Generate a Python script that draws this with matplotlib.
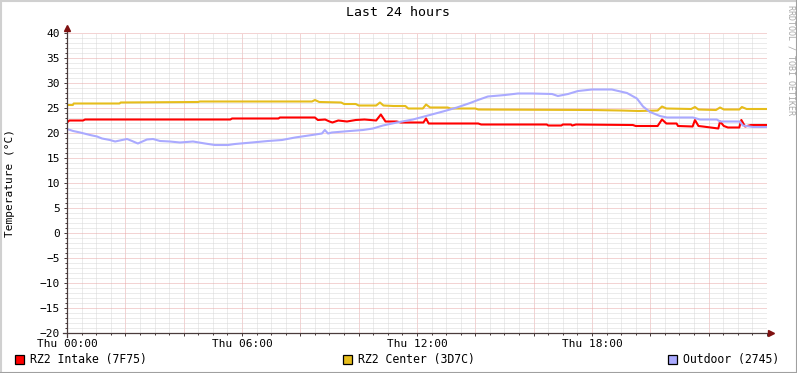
import matplotlib
matplotlib.use("Agg")
import matplotlib.pyplot as plt
from matplotlib.lines import Line2D
from matplotlib.patches import Rectangle

plt.rcParams["font.family"] = ["DejaVu Sans Mono"]

# hours since Thu 00:00, values in deg C
intake_t = [0.00, 0.08, 0.55, 0.62, 5.60, 5.66, 7.25, 7.30, 8.50, 8.60, 8.85, 9.00, 9.10, 9.30,
            9.60, 9.90, 10.20, 10.60, 10.76, 10.92, 11.30, 11.45, 12.22, 12.31, 12.40, 14.10,
            14.20, 16.45, 16.50, 16.95, 17.00, 17.28, 17.32, 17.45, 19.40, 19.50, 20.25, 20.40,
            20.55, 20.90, 20.95, 21.45, 21.53, 21.65, 21.80, 22.20, 22.33, 22.39, 22.52, 22.66,
            23.05, 23.12, 23.25, 23.45, 24.00]
intake_v = [22.1, 22.5, 22.5, 22.7, 22.7, 22.9, 22.9, 23.1, 23.1, 22.6, 22.7, 22.3, 22.1, 22.5,
            22.3, 22.6, 22.7, 22.5, 23.7, 22.3, 22.3, 22.1, 22.1, 22.9, 21.9, 21.9,
            21.7, 21.7, 21.5, 21.5, 21.7, 21.7, 21.5, 21.7, 21.6, 21.4, 21.4, 22.7,
            21.9, 21.9, 21.4, 21.3, 22.6, 21.4, 21.3, 21.0, 20.9, 22.3, 21.4, 21.1,
            21.1, 22.6, 21.3, 21.6, 21.6]

center_t = [0.00, 0.20, 0.23, 1.80, 1.84, 4.50, 4.55, 8.40, 8.50, 8.65, 9.40, 9.50, 9.90, 10.00,
            10.60, 10.73, 10.85, 11.20, 11.60, 11.70, 12.20, 12.31, 12.45, 13.05, 13.15, 14.00,
            14.10, 18.00, 19.00, 19.60, 20.25, 20.40, 20.55, 21.40, 21.53, 21.65, 22.25, 22.39,
            22.52, 23.05, 23.14, 23.30, 24.00]
center_v = [25.6, 25.6, 25.9, 25.9, 26.1, 26.2, 26.3, 26.3, 26.6, 26.2, 26.1, 25.8, 25.8, 25.5,
            25.5, 26.1, 25.5, 25.4, 25.4, 24.9, 24.9, 25.7, 25.1, 25.1, 24.9, 24.9,
            24.7, 24.6, 24.5, 24.4, 24.5, 25.3, 24.9, 24.8, 25.2, 24.7, 24.6, 25.1,
            24.7, 24.7, 25.2, 24.8, 24.8]

outdoor_t = [0.00, 0.21, 0.45, 0.79, 1.03, 1.20, 1.47, 1.65, 1.89, 2.06, 2.23, 2.43, 2.74, 2.95,
             3.19, 3.53, 3.87, 4.32, 4.73, 5.07, 5.52, 5.76, 6.34, 6.89, 7.37, 7.82, 8.40, 8.74,
             8.84, 8.95, 9.08, 9.70, 10.15, 10.49, 10.83, 11.31, 11.86, 12.44, 12.89, 13.37,
             13.82, 14.09, 14.43, 15.02, 15.46, 15.94, 16.63, 16.83, 17.18, 17.52, 18.00, 18.68,
             19.20, 19.54, 19.75, 19.99, 20.33, 20.57, 21.46, 21.70, 22.28, 22.39, 23.07, 23.17,
             23.52, 24.00]
outdoor_v = [20.8, 20.4, 20.1, 19.6, 19.3, 18.9, 18.6, 18.3, 18.6, 18.8, 18.4, 17.9, 18.7, 18.8,
             18.4, 18.3, 18.1, 18.3, 17.9, 17.6, 17.6, 17.8, 18.1, 18.4, 18.6, 19.1, 19.6, 19.9,
             20.6, 19.9, 20.1, 20.4, 20.6, 20.9, 21.5, 22.1, 22.7, 23.6, 24.3, 25.1,
             26.0, 26.6, 27.3, 27.6, 27.9, 27.9, 27.8, 27.4, 27.8, 28.4, 28.7, 28.7,
             28.0, 26.9, 25.3, 24.2, 23.4, 23.1, 23.1, 22.7, 22.7, 22.3, 22.3, 21.5,
             21.2, 21.2]

series = [
    ("RZ2 Intake (7F75)", intake_t, intake_v, "#ff0000"),
    ("RZ2 Center (3D7C)", center_t, center_v, "#e6bd1c"),
    ("Outdoor (2745)", outdoor_t, outdoor_v, "#aaaaff"),
]
x_labels = ["Thu 00:00", "Thu 06:00", "Thu 12:00", "Thu 18:00"]

W, H = 797, 373
fig = plt.figure(figsize=(W / 100, H / 100), dpi=100)
fig.patch.set_facecolor("white")
ax = fig.add_axes([67 / W, 40 / H, 700 / W, 300 / H])
ax.set_facecolor("white")

for name, t, v, c in series:
    ax.plot(t, v, color=c, lw=1.5, solid_capstyle="butt", zorder=3)

ax.set_xlim(0, 24)
ax.set_ylim(-20, 40)
ax.set_yticks(range(-20, 41, 5))
ax.set_yticks(range(-20, 41, 1), minor=True)
ax.set_xticks([h for h in range(0, 25, 2)])
ax.set_xticklabels([x_labels[h // 6] if h % 6 == 0 and h < 24 else "" for h in range(0, 25, 2)])
ax.set_xticks([h / 2 for h in range(0, 49)], minor=True)

ax.grid(which="minor", color="#d8d8d8", lw=0.72, ls=(0, (1, 1)), zorder=0)
ax.grid(which="major", color="#e8a8a8", lw=0.72, ls=(0, (1, 1)), zorder=1)
for s in ax.spines.values():
    s.set_visible(False)

axis_c = "#4a3c3c"
ax.tick_params(which="both", direction="out", color=axis_c, width=0.72, labelsize=8)
ax.tick_params(which="major", length=2.2)
ax.tick_params(which="minor", length=1.5)
ax.tick_params(axis="y", pad=3)
ax.tick_params(axis="x", pad=2)

# axes with arrows
ax.add_line(Line2D([-0.006, 1.004], [0, 0], transform=ax.transAxes, color=axis_c, lw=0.9, clip_on=False, zorder=4))
ax.add_line(Line2D([0, 0], [-0.012, 1.012], transform=ax.transAxes, color=axis_c, lw=0.9, clip_on=False, zorder=4))
ax.plot([1.006], [0], marker=">", ms=4, color="#7f1010", transform=ax.transAxes, clip_on=False, zorder=5)
ax.plot([0], [1.016], marker="^", ms=4, color="#7f1010", transform=ax.transAxes, clip_on=False, zorder=5)

fig.text(398 / W, 1 - 13 / H, "Last 24 hours", ha="center", va="center", fontsize=9.5)
fig.text(10 / W, 1 - 183 / H, "Temperature (°C)", ha="center", va="center", rotation=90, fontsize=8)
fig.text(791 / W, 1 - 5 / H, "RRDTOOL / TOBI OETIKER", ha="center", va="top", rotation=-90,
         fontsize=6, color="#a8a8a8")

# legend
leg_x = [15, 343, 668]
for (name, t, v, c), lx in zip(series, leg_x):
    fig.patches.append(Rectangle((lx / W, 1 - 364 / H), 9 / W, 9 / H, transform=fig.transFigure,
                                 facecolor=c, edgecolor="black", lw=0.9))
    fig.text((lx + 15) / W, 1 - 359 / H, name, ha="left", va="center", fontsize=8.3)

# frame
fig.add_artist(Line2D([0, 1], [1 - 0.5 / H, 1 - 0.5 / H], transform=fig.transFigure, color="#d0d0d0", lw=1.5))
fig.add_artist(Line2D([0.5 / W, 0.5 / W], [0, 1], transform=fig.transFigure, color="#d0d0d0", lw=1.5))
fig.add_artist(Line2D([0, 1], [0.5 / H, 0.5 / H], transform=fig.transFigure, color="#a0a0a0", lw=1.5))
fig.add_artist(Line2D([1 - 0.5 / W, 1 - 0.5 / W], [0, 1], transform=fig.transFigure, color="#a0a0a0", lw=1.5))

fig.savefig("out.png", dpi=100)
